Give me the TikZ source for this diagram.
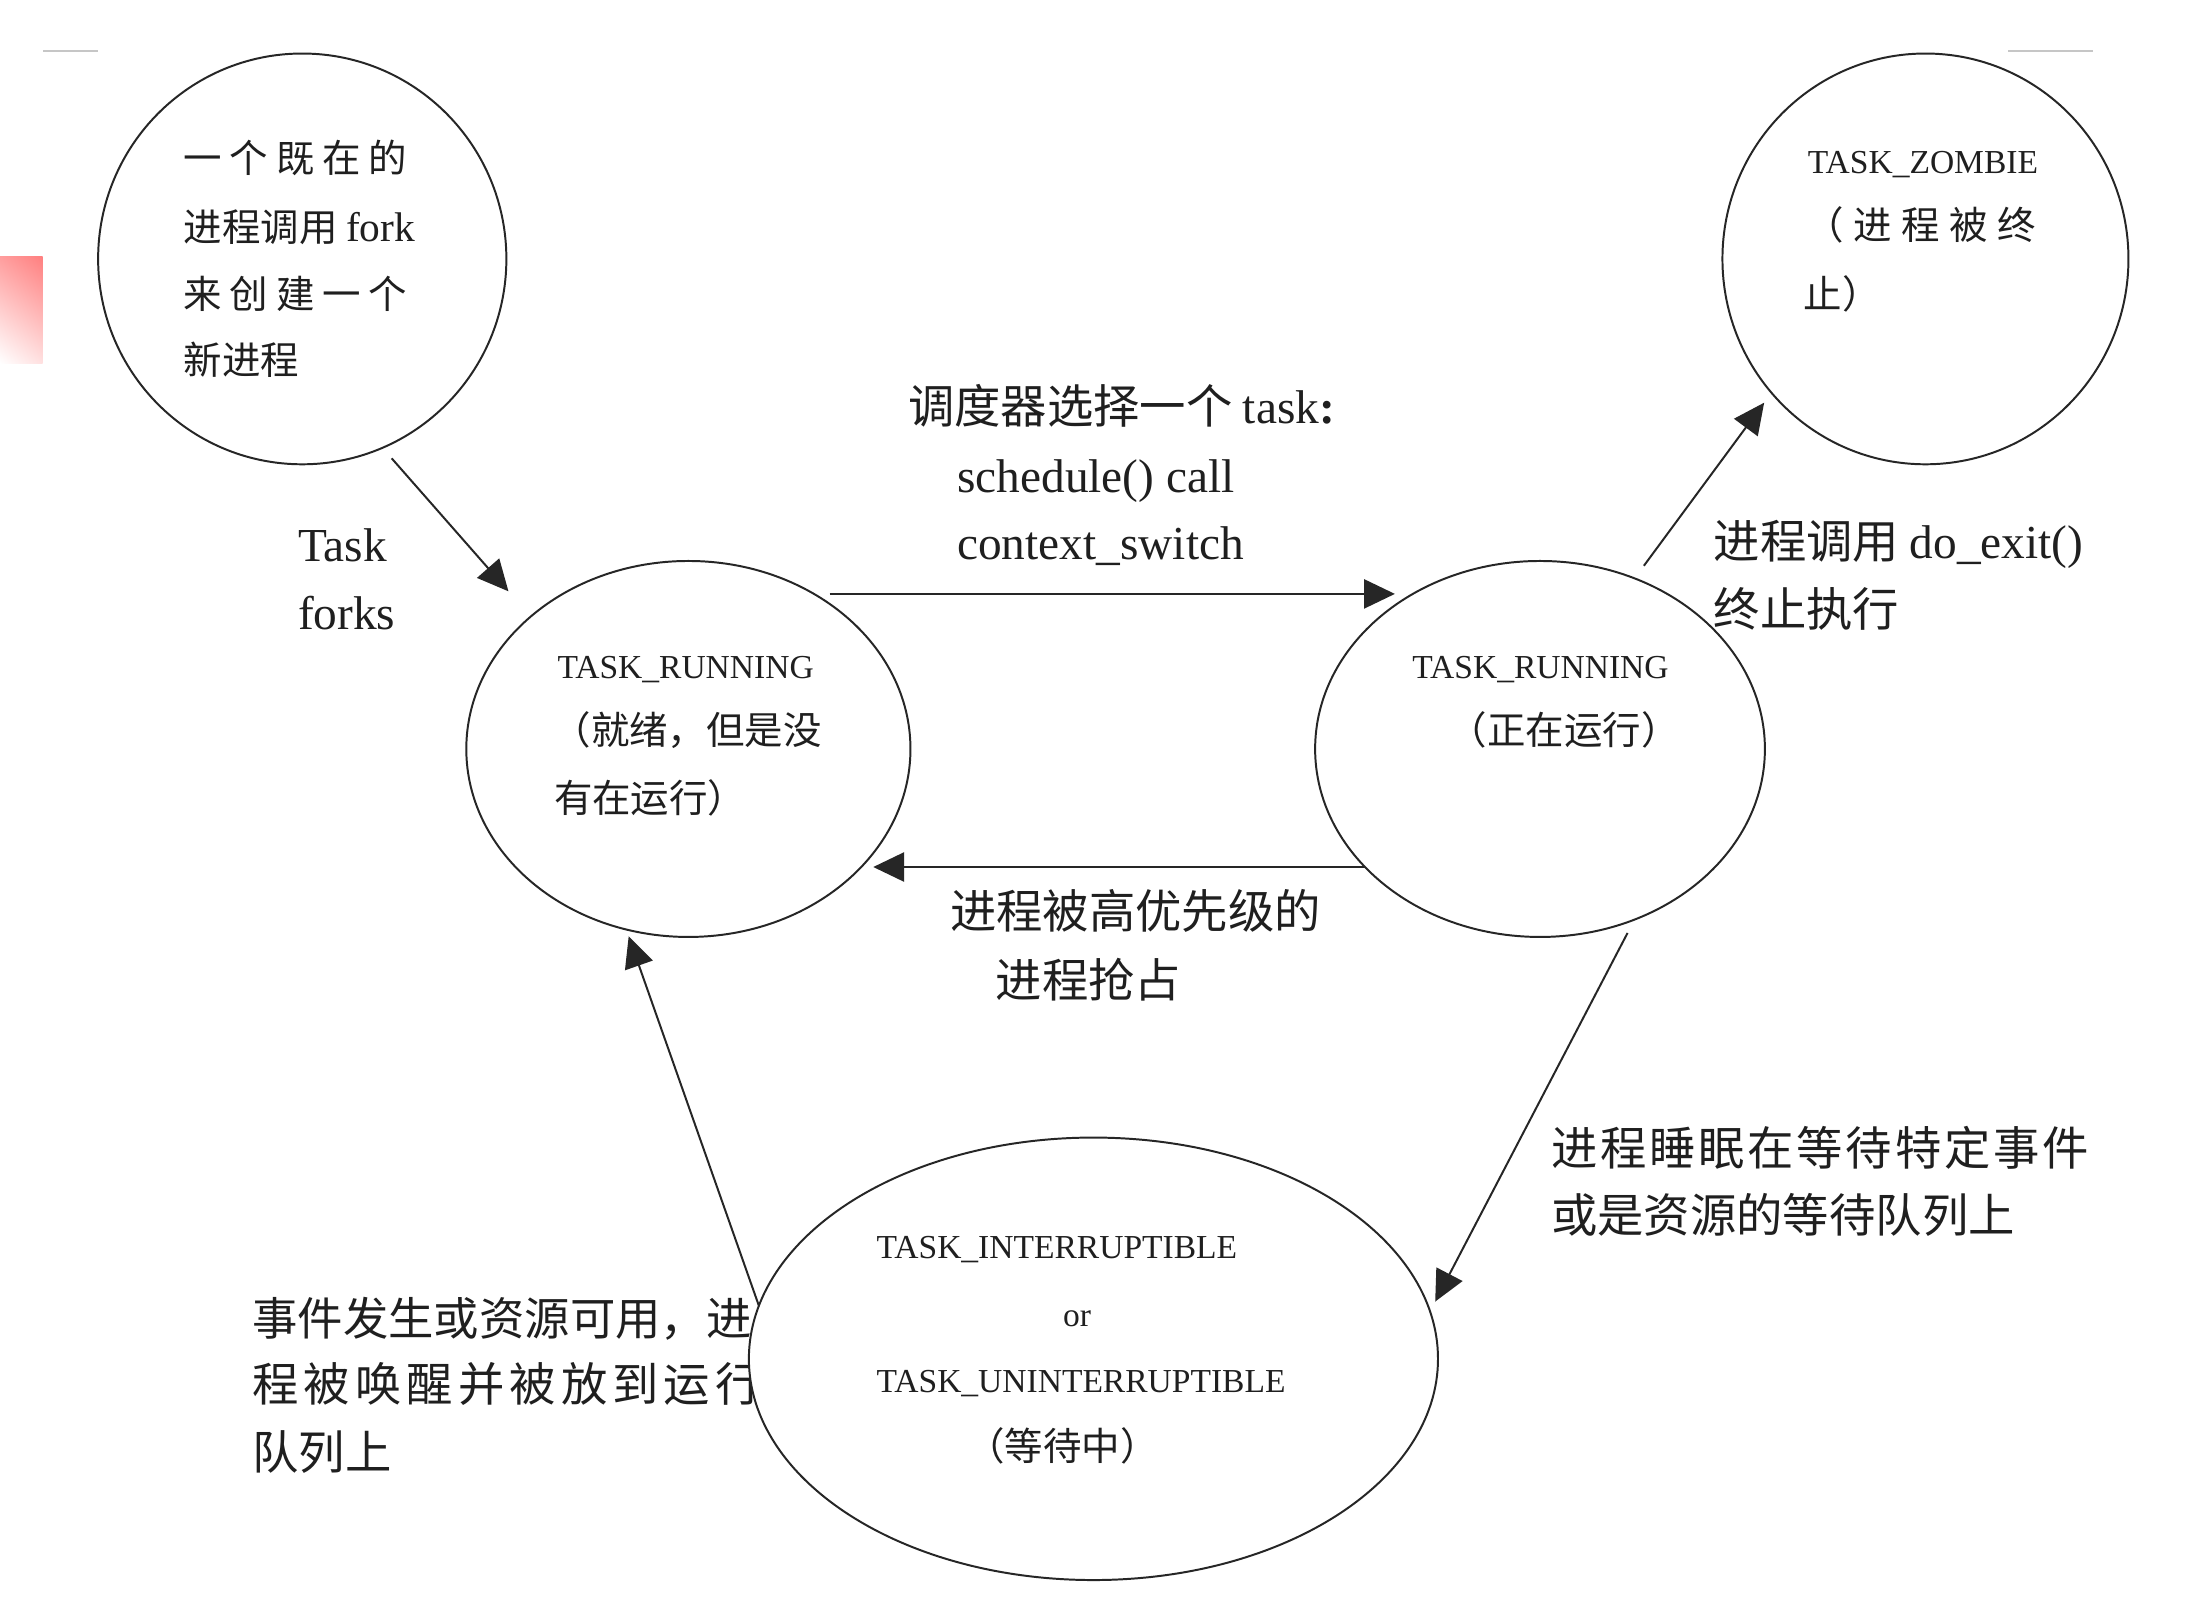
\documentclass[tikz,border=0pt]{standalone}
\usepackage{fontspec}
\setmainfont{Liberation Serif}
\newfontfamily\cjk{Noto Sans CJK SC}
\newfontfamily\cjkS[LetterSpace=20]{Noto Sans CJK SC}
\newfontfamily\cjkU[LetterSpace=25]{Noto Sans CJK SC}
\newfontfamily\cjkT[LetterSpace=11]{Noto Sans CJK SC}
\newfontfamily\cjkV[LetterSpace=6]{Noto Sans CJK SC}
\usetikzlibrary{shapes.geometric,arrows.meta,shadings}
\begin{document}
\begin{tikzpicture}[x=0.025cm,y=-0.025cm,
  state/.style={draw=black!85, line width=1pt, ellipse, fill=white, inner sep=0pt, outer sep=0pt},
  txt/.style={anchor=base west, inner sep=0pt, outer sep=0pt, text=black!88},
  intxt/.style={txt, font=\fontsize{19.5pt}{24pt}\selectfont\cjk},
  tasktxt/.style={txt, font=\fontsize{17pt}{20pt}\selectfont},
  labtxt/.style={txt, font=\fontsize{23.5pt}{28pt}\selectfont\cjk},
  lattxt/.style={txt, font=\fontsize{24pt}{28pt}\selectfont},
  arr/.style={draw=black!85, line width=1pt, -{Triangle[length=0.55cm,width=0.52cm]}}
]
\useasboundingbox (0,0) rectangle (1560,1142);
\fill[white] (0,0) rectangle (1560,1142);
% slide artefacts
\shade[upper left=red!38!white, upper right=red!50!white, lower left=white, lower right=red!12!white] (0,183) rectangle (30.4,259);
\draw[gray!45, line width=1.2pt] (31,36.5) -- (70,36.5);
\draw[gray!45, line width=1.2pt] (1432,36.5) -- (1492,36.5);

% label partly hidden by the waiting ellipse
\node[labtxt, font=\fontsize{23pt}{28pt}\selectfont\cjk] (w1) at (180,952) {事件发生或资源可用，进};
\node[labtxt, font=\fontsize{23.5pt}{28pt}\selectfont\cjkT] (w2) at (180,999) {程被唤醒并被放到运行};
\node[labtxt] (w3) at (180,1048) {队列上};

% states
\node[state, minimum width=7.275cm, minimum height=7.32cm] (ell1) at (215.5,184.6) {};
\node[state, minimum width=7.915cm, minimum height=6.7cm] (ell2) at (490.8,534) {};
\node[state, minimum width=8.015cm, minimum height=6.7cm] (ell3) at (1098,534) {};
\node[state, minimum width=7.235cm, minimum height=7.32cm] (ell4) at (1372.8,184.6) {};
\node[state, minimum width=12.28cm, minimum height=7.885cm] (ell5) at (779.6,968.8) {};

% texts inside states
\node[intxt, font=\fontsize{19.5pt}{24pt}\selectfont\cjkS] (t1a) at (131,123) {一个既在的};
\node[intxt] (t1b) at (131,172) {进程调用 {\rmfamily\fontsize{21pt}{24pt}\selectfont fork}};
\node[intxt, font=\fontsize{19.5pt}{24pt}\selectfont\cjkS] (t1c) at (131,220) {来创建一个};
\node[intxt] (t1d) at (131,267) {新进程};

\node[tasktxt] (t2a) at (397.5,484) {TASK\_RUNNING};
\node[intxt] (t2b) at (394,531) {（就绪，但是没};
\node[intxt] (t2c) at (395,579) {有在运行）};

\node[tasktxt] (t3a) at (1007,484) {TASK\_RUNNING};
\node[intxt] (t3b) at (1033,531) {（正在运行）};

\node[tasktxt] (t4a) at (1289,124) {TASK\_ZOMBIE};
\node[intxt, font=\fontsize{19.5pt}{24pt}\selectfont\cjkU] (t4b) at (1287,171) {（进程被终};
\node[intxt] (t4c) at (1286,220) {止）};

\node[tasktxt] (t5a) at (625,897) {TASK\_INTERRUPTIBLE};
\node[tasktxt] (t5b) at (758,946) {or};
\node[tasktxt] (t5c) at (625,993) {TASK\_UNINTERRUPTIBLE};
\node[intxt] (t5d) at (689,1041) {（等待中）};

% labels
\node[lattxt] (fk1) at (212.5,400) {Task};
\node[lattxt] (fk2) at (212.5,449) {forks};

\node[labtxt] (s1) at (647.5,302) {调度器选择一个 {\rmfamily\fontsize{24pt}{28pt}\selectfont task\textbf{:}}};
\node[lattxt] (s2) at (682.5,351) {schedule() call};
\node[lattxt] (s3) at (682.5,399) {context\_switch};

\node[labtxt] (p1) at (677.5,662) {进程被高优先级的};
\node[labtxt] (p2) at (710,711) {进程抢占};

\node[labtxt] (e1) at (1222,398) {进程调用 {\rmfamily\fontsize{24pt}{28pt}\selectfont do\_exit()}};
\node[labtxt] (e2) at (1222,447) {终止执行};

\node[labtxt, font=\fontsize{23.5pt}{28pt}\selectfont\cjkV] (z1) at (1106,831) {进程睡眠在等待特定事件};
\node[labtxt] (z2) at (1106,879) {或是资源的等待队列上};

% connectors
\draw[arr, shorten <=0.25cm, shorten >=0.6cm] (ell1.-67) -- (ell2.140);
\draw[arr, shorten <=0.28cm, shorten >=0.285cm] (ell2.51) -- (ell2.51 -| ell3.130);
\draw[arr, shorten >=0.2cm] (ell3.214) -- (ell3.214 -| ell2.326);
\draw[arr, shorten <=0.28cm, shorten >=0.22cm] (ell3.61) -- (ell4.221);
\draw[arr, shorten <=0.27cm, shorten >=0.2cm] (ell3.299) -- (ell5.8);
\draw[arr, shorten >=0.13cm] (ell5.171) -- (ell2.251);
\end{tikzpicture}
\end{document}
